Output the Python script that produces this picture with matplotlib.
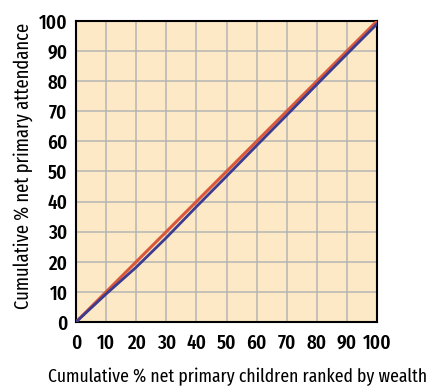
import matplotlib
matplotlib.use("Agg")
import matplotlib.pyplot as plt
from matplotlib import font_manager

# cumulative % of children ranked by wealth
wealth_pct = [0, 10, 20, 30, 40, 50, 60, 70, 80, 90, 100]
# line of equality
equality = [0, 10, 20, 30, 40, 50, 60, 70, 80, 90, 100]
# concentration curve of net primary attendance
attendance = [0, 9.3, 18.2, 28.0, 38.3, 48.4, 58.6, 68.7, 78.9, 89.0, 99.0]

ticks = list(range(0, 101, 10))

names = {f.name for f in font_manager.fontManager.ttflist}
family = ['Fira Sans Extra Condensed', 'Cabin Condensed', 'DejaVu Sans']
family = [f for f in family if f in names] or ['DejaVu Sans']
plt.rcParams['font.family'] = family

fig = plt.figure(figsize=(4.28, 3.87), dpi=100)
ax = fig.add_axes([0.1776, 0.168, 0.7033, 0.7778])
ax.set_facecolor('#fde9c6')

ax.plot(wealth_pct, equality, color='#d9573a', lw=2.2, zorder=3)
ax.plot(wealth_pct, attendance, color='#3b3b8f', lw=2.0, zorder=3)

ax.set_xlim(0, 100)
ax.set_ylim(0, 100)
ax.set_xticks(ticks)
ax.set_yticks(ticks)
ax.tick_params(length=0, labelsize=15)
ax.tick_params(axis='x', pad=8)
ax.tick_params(axis='y', pad=6)
for lab in ax.get_xticklabels() + ax.get_yticklabels():
    lab.set_fontweight('medium')
ax.grid(True, color='#b4b4b4', lw=1.1)
ax.set_axisbelow(True)
for s in ax.spines.values():
    s.set_linewidth(1.5)
    s.set_color('black')

ax.set_xlabel("Cumulative % net primary children ranked by wealth", fontsize=13.8)
ax.set_ylabel("Cumulative % net primary attendance", fontsize=14.5)
ax.xaxis.set_label_coords(0.5365, -0.183)
ax.xaxis.label.set_va('center')
ax.yaxis.set_label_coords(-0.176, 0.518)
ax.yaxis.label.set_va('center')

fig.savefig("out.png", dpi=100)
